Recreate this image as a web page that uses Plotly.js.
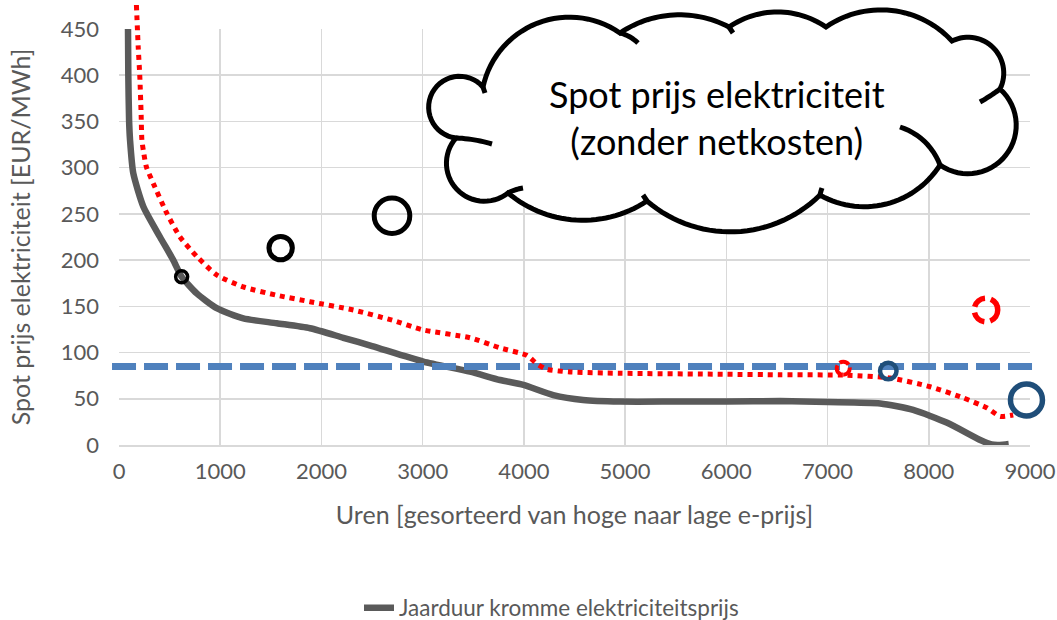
<!DOCTYPE html>
<html><head><meta charset="utf-8">
<script src="https://cdn.plot.ly/plotly-3.0.1.min.js"></script>
<style>html,body{margin:0;padding:0;background:#fff}</style>
</head><body><div id="chart" style="width:1057px;height:620px"></div>
<script>
// ---------- data ----------
const hoursGray = [89, 92, 100, 109, 141, 240, 405, 536, 619, 768, 965, 1228, 1558, 1887, 2216, 2500, 3007, 3468, 3764, 3995, 4290, 4585, 4950, 5500, 6000, 6532, 7000, 7520, 7846, 8182, 8508, 8620, 8700, 8790];
const priceGray = [450, 400, 350, 330, 294, 258, 225, 200, 182, 164, 148, 137, 131.7, 126.3, 116, 107, 90.2, 79.3, 70.3, 65, 54, 48.7, 47, 47, 47, 47.5, 46.5, 45, 38, 24, 5.4, 0.5, 0, 1];
const hoursRed = [172, 190, 205, 218, 226, 240, 270, 339, 471, 603, 768, 965, 1228, 1558, 1887, 2315, 2700, 3004, 3468, 3765, 4028, 4127, 4226, 4456, 4950, 6000, 6532, 7190, 7619, 8014, 8340, 8577, 8705, 8834];
const priceRed = [476, 430, 400, 360, 330, 319, 301, 283, 251, 225, 204, 184, 171, 162, 155, 146, 135, 124.5, 116, 105, 97, 88, 82, 79, 77.6, 76.5, 76, 75.5, 72.5, 63, 51, 40, 31, 32.5];
const refHours = [-69, 9020];
const refPrice = [85, 85];
const solidCircleHours = [619, 1597, 2697, 7600, 8965];
const solidCirclePrice = [182, 213, 248, 80, 48.7];
const dashedCircleHours = [8565, 7155];
const dashedCirclePrice = [146, 83];
const xTickVals = [0, 1000, 2000, 3000, 4000, 5000, 6000, 7000, 8000, 9000];
const yTickVals = [0, 50, 100, 150, 200, 250, 300, 350, 400, 450];
const legendLabel = 'Jaarduur kromme elektriciteitsprijs';
const xTitle = 'Uren [gesorteerd van hoge naar lage e-prijs]';
const yTitle = 'Spot prijs elektriciteit [EUR/MWh]';
const cloudText = ['Spot prijs elektriciteit', '(zonder netkosten)'];

// ---------- styles ----------
const solidRadii = [6, 11.7, 17.8, 8.25, 16];
const solidWidths = [3.5, 5, 5, 4.5, 5.5];
const solidColors = ['#000000', '#000000', '#000000', '#1f4e79', '#1f4e79'];
const dashedRadii = [11.75, 6.5];
const dashedWidths = [5.5, 4];
const dashedPatterns = ['14px,6px', '10px,3px'];

// ---------- geometry ----------
const W = 1057, H = 620;
const M = {l: 105, r: 5, t: 5, b: 175};
const PW = W - M.l - M.r, PH = H - M.t - M.b;
const plotLeft = 119, plotRight = 1030, plotTop = 29, plotBottom = 445;
const xMax = 9000, yMax = 450;
const xDom = [(plotLeft - M.l) / PW, (plotRight - M.l) / PW];
const yDom = [0, (plotBottom - plotTop) / PH];
const kx = (plotRight - plotLeft) / xMax;
const ky = (plotBottom - plotTop) / yMax;
const x2Range = [-(plotLeft - M.l) / kx, xMax + (M.l + PW - plotRight) / kx];
const y2Range = [0, PH / ky];

const px2p = (p) => [((p[0] - M.l) / PW).toFixed(5), ((M.t + PH - p[1]) / PH).toFixed(5)];

function circleThrough(a, b, c) {
  const [ax, ay] = a, [bx, by] = b, [cx, cy] = c;
  const d = 2 * (ax * (by - cy) + bx * (cy - ay) + cx * (ay - by));
  if (Math.abs(d) < 1e-6) return null;
  const ux = ((ax*ax+ay*ay)*(by-cy) + (bx*bx+by*by)*(cy-ay) + (cx*cx+cy*cy)*(ay-by)) / d;
  const uy = ((ax*ax+ay*ay)*(cx-bx) + (bx*bx+by*by)*(ax-cx) + (cx*cx+cy*cy)*(bx-ax)) / d;
  return [ux, uy, Math.hypot(ax - ux, ay - uy)];
}
function arcPts(a, m, b, n) {
  const c = circleThrough(a, m, b);
  if (!c) return [a, m, b];
  const [ux, uy, r] = c;
  const norm = t => { while (t < 0) t += 2*Math.PI; while (t >= 2*Math.PI) t -= 2*Math.PI; return t; };
  const a0 = Math.atan2(a[1]-uy, a[0]-ux), am = Math.atan2(m[1]-uy, m[0]-ux), a1 = Math.atan2(b[1]-uy, b[0]-ux);
  const d1 = norm(a1 - a0), dm = norm(am - a0);
  const sweep = dm < d1 ? d1 : d1 - 2*Math.PI;
  const pts = [];
  for (let i = 0; i <= n; i++) { const t = a0 + sweep * i / n; pts.push([ux + r*Math.cos(t), uy + r*Math.sin(t)]); }
  return pts;
}
function cloudShapes() {
  const cusps = [[483,87],[620,33],[729,27],[826,27],[952,41],[1000,89],[940,165],[820,195],[647,201],[508,193],[456,138]];
  const peaks = [[508,42],[673,15],[779,12],[886,10],[1002,62],[1012,145],[893,202],[745,231],[575,220],[448,174],[429,112]];
  let pts = [];
  for (let i = 0; i < cusps.length; i++) {
    const a = cusps[i], b = cusps[(i + 1) % cusps.length];
    const seg = arcPts(a, peaks[i], b, 30);
    if (i > 0) seg.shift();
    pts = pts.concat(seg);
  }
  const toPath = (arr, close) => 'M ' + arr.map(p => px2p(p).join(',')).join(' L ') + (close ? ' Z' : '');
  const shapes = [{
    type: 'path', xref: 'paper', yref: 'paper', layer: 'above',
    path: toPath(pts, true), fillcolor: '#ffffff', line: {color: '#000000', width: 5}
  }];
  const strokes = [
    [[620,33],[630,37],[638,43]], [[729,27],[731,30],[733,33]], [[1000,89],[990,96],[980,102]],
    [[940,165],[927,144],[900,127]], [[456,138],[475,140],[492,144]], [[508,193],[515,190],[523,188]],
    [[483,87],[484,90],[485,93]], [[820,195],[821,191],[822,188]], [[647,201],[645,198],[643,195]]
  ];
  strokes.forEach(s => shapes.push({
    type: 'path', xref: 'paper', yref: 'paper', layer: 'above',
    path: toPath(arcPts(s[0], s[1], s[2], 12), false), fillcolor: 'rgba(0,0,0,0)',
    line: {color: '#000000', width: 5}
  }));
  return shapes;
}

const FONT = 'Lato, "Open Sans", sans-serif';
const GREY = '#595959';

const traces = [
  {x: hoursGray, y: priceGray, xaxis: 'x', yaxis: 'y', mode: 'lines', name: legendLabel, showlegend: true,
   line: {color: '#5a5a5a', width: 6.5, shape: 'spline', smoothing: 0.6}, hoverinfo: 'skip'},
  {x: refHours, y: refPrice, xaxis: 'x2', yaxis: 'y2', mode: 'lines', showlegend: false,
   line: {color: '#4f81bd', width: 7, dash: '24px,8px'}, hoverinfo: 'skip'},
  {x: hoursRed, y: priceRed, xaxis: 'x2', yaxis: 'y2', mode: 'lines', showlegend: false,
   line: {color: '#ff0000', width: 5, dash: 'dot', shape: 'spline', smoothing: 0.6}, hoverinfo: 'skip'}
];

const circle = (h, p, r, w, color, dash) => ({
  type: 'circle', xref: 'x2', yref: 'y2', xsizemode: 'pixel', ysizemode: 'pixel',
  xanchor: h, yanchor: p, x0: -r, x1: r, y0: -r, y1: r,
  fillcolor: 'rgba(0,0,0,0)', layer: 'above',
  line: {color: color, width: w, dash: dash || 'solid'}
});
const shapes = []
  .concat(solidCircleHours.map((h, i) => circle(h, solidCirclePrice[i], solidRadii[i], solidWidths[i], solidColors[i])))
  .concat(dashedCircleHours.map((h, i) => circle(h, dashedCirclePrice[i], dashedRadii[i], dashedWidths[i], '#ff0000', dashedPatterns[i])))
  .concat(cloudShapes());

const layout = {
  width: W, height: H, margin: M,
  paper_bgcolor: '#ffffff', plot_bgcolor: 'rgba(0,0,0,0)',
  font: {family: FONT, color: GREY},
  showlegend: true,
  legend: {orientation: 'h', xref: 'paper', x: (359 - M.l) / PW, xanchor: 'left',
           yref: 'container', y: (H - 608) / H, yanchor: 'middle',
           font: {family: FONT, size: 22.5, color: GREY}, bgcolor: 'rgba(0,0,0,0)'},
  xaxis: {domain: xDom, range: [0, xMax], tickvals: xTickVals, ticktext: xTickVals.map(String),
          showgrid: true, gridcolor: '#d9d9d9', gridwidth: 1.5, zeroline: false, automargin: false,
          showline: true, linecolor: '#d9d9d9', linewidth: 1.5, ticks: '', ticklabelstandoff: 6,
          tickfont: {family: FONT, size: 22, color: GREY}, anchor: 'y', fixedrange: true,
          title: {text: xTitle, font: {family: FONT, size: 25, color: GREY}, standoff: 23}},
  yaxis: {domain: yDom, range: [0, yMax], tickvals: yTickVals, ticktext: yTickVals.map(String),
          showgrid: true, gridcolor: '#d9d9d9', gridwidth: 1.5, zeroline: false, showline: false, automargin: false,
          ticks: '', ticklabelstandoff: 19, anchor: 'x', fixedrange: true,
          tickfont: {family: FONT, size: 22, color: GREY},
          title: {text: yTitle, font: {family: FONT, size: 25, color: GREY}, standoff: 22}},
  xaxis2: {domain: [0, 1], range: x2Range, visible: false, showgrid: false, zeroline: false, anchor: 'y2', fixedrange: true, automargin: false},
  yaxis2: {domain: [0, 1], range: y2Range, visible: false, showgrid: false, zeroline: false, anchor: 'x2', fixedrange: true, automargin: false},
  shapes: shapes,
  annotations: [{
    xref: 'paper', yref: 'paper', x: (717 - M.l) / PW, y: (M.t + PH - 117.5) / PH,
    xanchor: 'center', yanchor: 'middle', showarrow: false, align: 'center',
    text: cloudText.join('<br>'), font: {family: FONT, size: 36, color: '#000000'}
  }]
};

Plotly.newPlot('chart', traces, layout, {staticPlot: true, displayModeBar: false});
</script></body></html>
